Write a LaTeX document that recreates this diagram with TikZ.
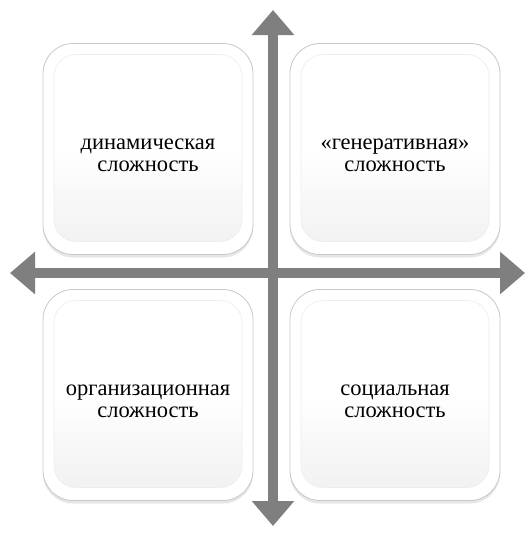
\documentclass[tikz,border=0pt]{standalone}
\usepackage{fontspec}
\setmainfont{Liberation Serif}
\usetikzlibrary{arrows.meta,shadows}
\definecolor{axisgray}{HTML}{7F7F7F}
\definecolor{rimgray}{HTML}{C8C8C8}
\definecolor{padlow}{HTML}{F0F0F0}

\begin{document}
\begin{tikzpicture}[
		x=1pt, y=-1pt,
		font=\fontsize{22.5}{22}\selectfont,
		axis/.style={axisgray, line width=10pt,
				{Triangle[width=41pt, length=25pt]}-{Triangle[width=41pt, length=25pt]}},
		pad/.style={draw=rimgray, line width=0.8pt, fill=white,
				rounded corners=30pt, minimum width=210pt, minimum height=211pt,
				align=center, inner sep=0pt, text height=46pt,
				drop shadow={shadow xshift=0pt, shadow yshift=-3pt, opacity=0.2},
				path picture={
						\shade[rounded corners=22pt, top color=white, bottom color=padlow,
							middle color=white, draw=white!93!black, line width=0.6pt]
						([shift={(11pt,-11pt)}]path picture bounding box.north west)
						rectangle ([shift={(-11pt,13pt)}]path picture bounding box.south east);
					}},
	]
	\useasboundingbox (0,0) rectangle (530,533);

	\node[pad] (dyn) at (148,149) {динамическая\\сложность};
	\node[pad] (gen) at (395,149) {«генеративная»\\сложность};
	\node[pad] (org) at (148,395) {организационная\\сложность};
	\node[pad] (soc) at (395,395) {социальная\\сложность};

	\coordinate (up) at (273,10);
	\coordinate (down) at (273,526);
	\coordinate (left) at (10,273);
	\coordinate (right) at (525,273);

	\draw[axis] (left) -- (right);
	\draw[axis] (down) -- (up);

\end{tikzpicture}
\end{document}
